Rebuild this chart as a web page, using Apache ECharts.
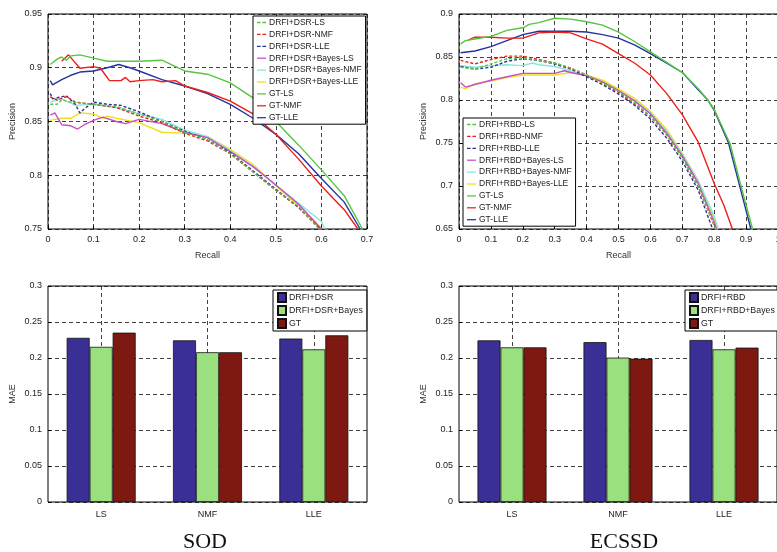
<!DOCTYPE html>
<html><head><meta charset="utf-8">
<script src="https://cdn.jsdelivr.net/npm/echarts@6/dist/echarts.min.js"></script>
<style>html,body{margin:0;padding:0;background:#fff}#c{width:777px;height:552px}</style>
</head><body><div id="c"></div>
<script>
// ---------- SOD precision-recall (recall, precision) ----------
const sodDsrLs = [[0.005,0.866],[0.02,0.866],[0.03,0.870],[0.05,0.868],[0.1,0.866],[0.15,0.864],[0.2,0.857],[0.25,0.850],[0.3,0.840],[0.35,0.833],[0.4,0.820],[0.45,0.803],[0.5,0.786],[0.55,0.771],[0.595,0.75]];
const sodDsrNmf = [[0.005,0.873],[0.02,0.870],[0.04,0.873],[0.06,0.868],[0.1,0.866],[0.15,0.863],[0.2,0.855],[0.25,0.849],[0.3,0.839],[0.35,0.832],[0.4,0.820],[0.45,0.803],[0.5,0.786],[0.55,0.770],[0.598,0.75]];
const sodDsrLle = [[0.005,0.876],[0.01,0.871],[0.04,0.874],[0.06,0.866],[0.07,0.858],[0.08,0.862],[0.1,0.868],[0.13,0.866],[0.16,0.865],[0.2,0.859],[0.25,0.850],[0.3,0.841],[0.35,0.833],[0.4,0.821],[0.45,0.804],[0.5,0.787],[0.55,0.770],[0.597,0.75]];
const sodBayesLs = [[0.005,0.856],[0.015,0.858],[0.03,0.847],[0.05,0.846],[0.065,0.843],[0.08,0.847],[0.1,0.851],[0.12,0.854],[0.15,0.850],[0.17,0.848],[0.2,0.852],[0.25,0.848],[0.3,0.840],[0.35,0.835],[0.4,0.822],[0.45,0.808],[0.5,0.791],[0.55,0.773],[0.6,0.75]];
const sodBayesNmf = [[0.005,0.868],[0.03,0.871],[0.06,0.865],[0.1,0.866],[0.15,0.863],[0.2,0.857],[0.25,0.852],[0.3,0.842],[0.35,0.836],[0.4,0.823],[0.45,0.808],[0.5,0.791],[0.55,0.774],[0.6,0.757],[0.607,0.75]];
const sodBayesLle = [[0.005,0.851],[0.03,0.853],[0.05,0.853],[0.07,0.858],[0.1,0.857],[0.12,0.853],[0.13,0.855],[0.15,0.853],[0.2,0.849],[0.25,0.840],[0.3,0.839],[0.35,0.836],[0.4,0.824],[0.45,0.810],[0.5,0.790],[0.55,0.772],[0.601,0.75]];
const sodGtLs = [[0.005,0.903],[0.02,0.908],[0.03,0.910],[0.04,0.907],[0.05,0.911],[0.07,0.912],[0.1,0.909],[0.13,0.906],[0.2,0.906],[0.25,0.907],[0.3,0.897],[0.35,0.894],[0.4,0.886],[0.45,0.872],[0.5,0.850],[0.55,0.828],[0.6,0.805],[0.65,0.781],[0.69,0.75]];
const sodGtNmf = [[0.03,0.906],[0.045,0.912],[0.07,0.8995],[0.1,0.901],[0.115,0.8995],[0.135,0.888],[0.16,0.888],[0.17,0.891],[0.18,0.887],[0.2,0.888],[0.23,0.889],[0.25,0.887],[0.28,0.888],[0.3,0.883],[0.35,0.877],[0.4,0.869],[0.45,0.857],[0.5,0.838],[0.55,0.815],[0.6,0.790],[0.65,0.768],[0.68,0.75]];
const sodGtLle = [[0.005,0.888],[0.01,0.884],[0.03,0.889],[0.05,0.893],[0.07,0.896],[0.1,0.897],[0.13,0.900],[0.155,0.903],[0.18,0.900],[0.2,0.897],[0.25,0.889],[0.3,0.883],[0.35,0.876],[0.4,0.866],[0.45,0.853],[0.5,0.838],[0.55,0.820],[0.6,0.797],[0.65,0.775],[0.685,0.75]];

// ---------- ECSSD precision-recall ----------
const ecRbdLs = [[0.005,0.838],[0.05,0.836],[0.1,0.842],[0.15,0.848],[0.2,0.849],[0.25,0.846],[0.3,0.843],[0.35,0.837],[0.4,0.829],[0.45,0.820],[0.5,0.810],[0.55,0.797],[0.6,0.781],[0.65,0.760],[0.7,0.733],[0.75,0.700],[0.8,0.655],[0.803,0.65]];
const ecRbdNmf = [[0.005,0.846],[0.05,0.842],[0.1,0.847],[0.15,0.851],[0.2,0.851],[0.25,0.847],[0.3,0.843],[0.35,0.837],[0.4,0.829],[0.45,0.820],[0.5,0.809],[0.55,0.796],[0.6,0.781],[0.65,0.760],[0.7,0.733],[0.75,0.699],[0.8,0.654],[0.802,0.65]];
const ecRbdLle = [[0.005,0.839],[0.05,0.836],[0.1,0.838],[0.15,0.845],[0.2,0.848],[0.25,0.846],[0.3,0.842],[0.35,0.836],[0.4,0.827],[0.45,0.818],[0.5,0.807],[0.55,0.794],[0.6,0.778],[0.65,0.756],[0.7,0.729],[0.75,0.695],[0.795,0.65]];
const ecBayesLs = [[0.005,0.820],[0.02,0.815],[0.05,0.818],[0.1,0.823],[0.15,0.827],[0.2,0.831],[0.25,0.831],[0.3,0.831],[0.33,0.834],[0.35,0.832],[0.4,0.828],[0.45,0.821],[0.5,0.811],[0.55,0.799],[0.6,0.784],[0.65,0.762],[0.7,0.735],[0.75,0.703],[0.8,0.658],[0.807,0.65]];
const ecBayesNmf = [[0.005,0.840],[0.05,0.838],[0.1,0.840],[0.15,0.841],[0.2,0.840],[0.23,0.843],[0.25,0.841],[0.3,0.839],[0.35,0.834],[0.4,0.828],[0.45,0.821],[0.5,0.811],[0.55,0.800],[0.6,0.785],[0.65,0.764],[0.7,0.737],[0.75,0.706],[0.8,0.665],[0.813,0.65]];
const ecBayesLle = [[0.005,0.815],[0.02,0.813],[0.05,0.819],[0.1,0.822],[0.15,0.826],[0.2,0.829],[0.25,0.829],[0.3,0.829],[0.35,0.832],[0.4,0.829],[0.45,0.823],[0.5,0.813],[0.55,0.802],[0.6,0.787],[0.65,0.766],[0.7,0.738],[0.75,0.706],[0.8,0.662],[0.808,0.65]];
const ecGtLs = [[0.005,0.865],[0.02,0.869],[0.05,0.871],[0.1,0.874],[0.15,0.881],[0.2,0.884],[0.22,0.888],[0.25,0.890],[0.3,0.895],[0.35,0.894],[0.4,0.891],[0.45,0.887],[0.5,0.879],[0.55,0.868],[0.6,0.856],[0.65,0.844],[0.7,0.832],[0.75,0.813],[0.78,0.800],[0.8,0.789],[0.85,0.749],[0.884,0.70],[0.92,0.65]];
const ecGtNmf = [[0.03,0.870],[0.05,0.873],[0.1,0.873],[0.15,0.872],[0.2,0.872],[0.25,0.878],[0.3,0.879],[0.35,0.878],[0.4,0.871],[0.45,0.865],[0.5,0.854],[0.55,0.843],[0.6,0.829],[0.65,0.808],[0.7,0.783],[0.75,0.751],[0.8,0.703],[0.83,0.678],[0.857,0.65]];
const ecGtLle = [[0.005,0.855],[0.05,0.857],[0.1,0.862],[0.15,0.869],[0.2,0.876],[0.25,0.880],[0.3,0.880],[0.35,0.880],[0.4,0.879],[0.45,0.876],[0.5,0.872],[0.55,0.864],[0.6,0.854],[0.65,0.843],[0.7,0.832],[0.75,0.812],[0.78,0.800],[0.8,0.788],[0.845,0.75],[0.88,0.70],[0.915,0.65]];

// ---------- MAE bars ----------
const maeCategories = ['LS','NMF','LLE'];
const sodMaeDsr = [0.228, 0.2245, 0.227];
const sodMaeBayes = [0.2155, 0.208, 0.212];
const sodMaeGt = [0.2352, 0.208, 0.2315];
const ecMaeRbd = [0.2245, 0.222, 0.225];
const ecMaeBayes = [0.2148, 0.2005, 0.212];
const ecMaeGt = [0.2148, 0.199, 0.2144];

const sodPrNames = ['DRFI+DSR-LS','DRFI+DSR-NMF','DRFI+DSR-LLE','DRFI+DSR+Bayes-LS','DRFI+DSR+Bayes-NMF','DRFI+DSR+Bayes-LLE','GT-LS','GT-NMF','GT-LLE'];
const ecPrNames = ['DRFI+RBD-LS','DRFI+RBD-NMF','DRFI+RBD-LLE','DRFI+RBD+Bayes-LS','DRFI+RBD+Bayes-NMF','DRFI+RBD+Bayes-LLE','GT-LS','GT-NMF','GT-LLE'];
const sodBarNames = ['DRFI+DSR','DRFI+DSR+Bayes','GT'];
const ecBarNames = ['DRFI+RBD','DRFI+RBD+Bayes','GT'];

const lineColors = ['#55c640','#ec1f18','#25339f','#c94ec9','#8ae4e0','#efe01a','#55c640','#ec1f18','#25339f'];
const lineTypes = ['dashed','dashed','dashed','solid','solid','solid','solid','solid','solid'];
const barColors = ['#3a2f94','#9ae07f','#7e1912'];

const FONT = 'Liberation Sans, Arial, Helvetica, sans-serif';
const gridLine = {show:true, lineStyle:{color:'#111', type:[4,3], width:0.8}};
const tickIn = {show:true, inside:true, length:3, lineStyle:{color:'#000'}};
const lbl = {fontSize:9, color:'#222', fontFamily:FONT};

function valAxis(idx, min, max, interval, name, gap){
  return {type:'value', gridIndex:idx, min, max, interval, name, nameLocation:'middle', nameGap:gap,
    nameTextStyle:{fontSize:9, color:'#333', fontFamily:FONT},
    axisLine:{show:false}, axisTick:tickIn, splitLine:gridLine,
    axisLabel:Object.assign({margin:6, showMaxLabel:true, showMinLabel:true}, lbl)};
}

const grids = [
  {left:48, top:14, width:319, height:215},
  {left:459, top:14, width:319, height:215},
  {left:48, top:286, width:319, height:216},
  {left:459, top:286, width:318, height:216}
].map(g => Object.assign({show:true, borderColor:'#000', borderWidth:1, backgroundColor:'transparent', containLabel:false, outerBoundsMode:'none'}, g));

const xAxes = [
  valAxis(0, 0, 0.7, 0.1, 'Recall', 22),
  valAxis(1, 0, 1, 0.1, 'Recall', 22),
  {type:'category', gridIndex:2, data:maeCategories, axisLine:{show:false}, axisTick:Object.assign({alignWithLabel:true}, tickIn), splitLine:{show:false}, axisLabel:Object.assign({margin:8}, lbl)},
  {type:'category', gridIndex:3, data:maeCategories, axisLine:{show:false}, axisTick:Object.assign({alignWithLabel:true}, tickIn), splitLine:{show:false}, axisLabel:Object.assign({margin:8}, lbl)},
  // helper axes for vertical grid lines at category centres
  {type:'category', gridIndex:2, boundaryGap:false, data:['','','','','','',''], axisLine:{show:false}, axisTick:{show:false}, axisLabel:{show:false}, splitLine:Object.assign({interval:(i)=>i%2===1}, gridLine)},
  {type:'category', gridIndex:3, boundaryGap:false, data:['','','','','','',''], axisLine:{show:false}, axisTick:{show:false}, axisLabel:{show:false}, splitLine:Object.assign({interval:(i)=>i%2===1}, gridLine)}
];
const yAxes = [
  valAxis(0, 0.75, 0.95, 0.05, 'Precision', 31),
  valAxis(1, 0.65, 0.9, 0.05, 'Precision', 31),
  valAxis(2, 0, 0.3, 0.05, 'MAE', 31),
  valAxis(3, 0, 0.3, 0.05, 'MAE', 31)
];

const series = [];
const sodLines = [sodDsrLs,sodDsrNmf,sodDsrLle,sodBayesLs,sodBayesNmf,sodBayesLle,sodGtLs,sodGtNmf,sodGtLle];
const ecLines = [ecRbdLs,ecRbdNmf,ecRbdLle,ecBayesLs,ecBayesNmf,ecBayesLle,ecGtLs,ecGtNmf,ecGtLle];
function lineSeries(d, i, names, axis){
  return {type:'line', name:names[i], xAxisIndex:axis, yAxisIndex:axis, data:d, symbol:'none', z:10-i,
    lineStyle:{color:lineColors[i], width:1.4, type:lineTypes[i]==='dashed'?[3,2]:'solid'}, itemStyle:{color:lineColors[i]}, animation:false};
}
sodLines.forEach((d,i)=>series.push(lineSeries(d,i,sodPrNames,0)));
ecLines.forEach((d,i)=>series.push(lineSeries(d,i,ecPrNames,1)));
[sodMaeDsr,sodMaeBayes,sodMaeGt].forEach((d,i)=>series.push({type:'bar', name:sodBarNames[i], xAxisIndex:2, yAxisIndex:2, data:d, barWidth:23, barGap:'0%',
  itemStyle:{color:barColors[i], borderColor:'#111', borderWidth:0.8}, animation:false}));
[ecMaeRbd,ecMaeBayes,ecMaeGt].forEach((d,i)=>series.push({type:'bar', name:ecBarNames[i], xAxisIndex:3, yAxisIndex:3, data:d, barWidth:23, barGap:'0%',
  itemStyle:{color:barColors[i], borderColor:'#111', borderWidth:0.8}, animation:false}));

const SOLID_ICON = 'path://M0,0h10v1.4h-10z';
const DASH_ICON = 'path://M0,0h4v1.4h-4z M6,0h4v1.4h-4z';
const lineLegendData = names => names.map((n,i)=>({name:n, icon: lineTypes[i]==='dashed'?DASH_ICON:SOLID_ICON}));

const legendBase = {orient:'vertical', backgroundColor:'#fff', borderColor:'#000', borderWidth:1, padding:[2,4,2,4],
  itemGap:2.9, itemWidth:9, itemHeight:9, textStyle:{fontSize:8.5, color:'#222', fontFamily:FONT, padding:[0,0,0,-2]}, selectedMode:false, z:20};
const barLegendText = Object.assign({}, legendBase.textStyle, {fontSize:8.8});
const legends = [
  Object.assign({}, legendBase, {data:lineLegendData(sodPrNames), left:253, top:16}),
  Object.assign({}, legendBase, {data:lineLegendData(ecPrNames), left:463, top:118}),
  Object.assign({}, legendBase, {data:sodBarNames, left:273, top:290, itemGap:2, itemWidth:8, itemHeight:9, icon:'rect', textStyle:barLegendText}),
  Object.assign({}, legendBase, {data:ecBarNames, left:685, top:290, itemGap:2, itemWidth:8, itemHeight:9, icon:'rect', textStyle:barLegendText})
];

const chart = echarts.init(document.getElementById('c'), null, {renderer:'canvas'});
chart.setOption({
  animation:false,
  backgroundColor:'#fff',
  grid:grids, xAxis:xAxes, yAxis:yAxes, legend:legends, series,
  graphic:[
    {type:'text', x:205, y:542, style:{text:'SOD', font:'22px "Liberation Serif", "Times New Roman", serif', fill:'#111', align:'center', verticalAlign:'middle'}},
    {type:'text', x:624, y:542, style:{text:'ECSSD', font:'22px "Liberation Serif", "Times New Roman", serif', fill:'#111', align:'center', verticalAlign:'middle'}}
  ]
});
</script></body></html>
